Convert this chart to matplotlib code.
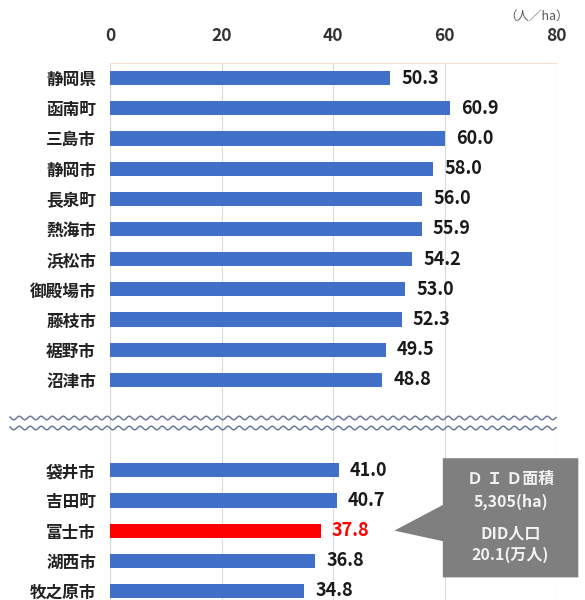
import numpy as np
import matplotlib.pyplot as plt
from matplotlib.patches import Polygon

plt.rcParams['font.family'] = ['Noto Sans CJK JP', 'DejaVu Sans']

# upper group (above the break) and lower group (below the break)
top_names = ['静岡県', '函南町', '三島市', '静岡市', '長泉町', '熱海市',
             '浜松市', '御殿場市', '藤枝市', '裾野市', '沼津市']
top_values = [50.3, 60.9, 60.0, 58.0, 56.0, 55.9, 54.2, 53.0, 52.3, 49.5, 48.8]
bottom_names = ['袋井市', '吉田町', '富士市', '湖西市', '牧之原市']
bottom_values = [41.0, 40.7, 37.8, 36.8, 34.8]
highlight = '富士市'
x_ticks = [0, 20, 40, 60, 80]


def main():
    names = top_names + bottom_names
    values = top_values + bottom_values
    pos = list(range(len(top_names))) + [len(top_names) + 2 + i for i in range(len(bottom_names))]

    blue = '#4170C8'
    red = '#FF0000'
    colors = [red if n == highlight else blue for n in names]

    fig = plt.figure(figsize=(5.85, 6.0), dpi=100)
    ax = fig.add_axes([110 / 585, 0.0, (556 - 110) / 585, 1 - 63 / 600])

    ax.barh(pos, values, height=0.47, color=colors, zorder=3)
    for p, v, n in zip(pos, values, names):
        ax.text(v + 2.0, p, f'{v:.1f}', va='center', ha='left', fontsize=13,
                fontweight='bold', color=red if n == highlight else '#1a1a1a')

    ax.set_xlim(0, 80)
    ax.set_ylim(17.3, -0.5)
    ax.set_xticks(x_ticks)
    ax.xaxis.tick_top()
    ax.tick_params(axis='x', length=0, pad=13, labelsize=12.5, labelcolor='#333333')
    for lbl in ax.get_xticklabels():
        lbl.set_fontweight('bold')
    ax.set_yticks(pos)
    ax.set_yticklabels(names, fontsize=12, fontweight='bold', color='#222222')
    ax.tick_params(axis='y', length=0, pad=10)
    ax.grid(True, axis='x', color='#d9d9d9', linewidth=0.8, zorder=0)
    for s in ['left', 'right', 'bottom']:
        ax.spines[s].set_visible(False)
    ax.spines['top'].set_color('#f6e0d0')
    ax.axvline(0, color='#e8e8e8', linewidth=0.8, zorder=1)

    # wavy break lines across the gap
    xs = np.linspace(10, 556, 600)
    for yb in [418, 428]:
        ys = yb + 1.8 * np.sin(2 * np.pi * xs / 11)
        fig.add_artist(plt.Line2D(xs / 585, 1 - ys / 600, color='#6b7a99',
                                  linewidth=1.1, transform=fig.transFigure))

    # unit
    fig.text(537 / 585, 1 - 16 / 600, '（人／ha）', ha='center', va='center',
             fontsize=9, color='#595959')

    # callout box
    y_hl = pos[names.index(highlight)]
    bx0, bx1 = 59.7, 84.0
    by0, by1 = 12.6, 16.55
    box = Polygon([(bx0, by0), (bx1, by0), (bx1, by1), (bx0, by1),
                   (bx0, y_hl + 0.35), (51.0, y_hl), (bx0, y_hl - 0.85)],
                  closed=True, facecolor='#7f7f7f', edgecolor='none',
                  clip_on=False, zorder=5)
    ax.add_patch(box)
    cx = (bx0 + bx1) / 2
    txt = dict(ha='center', va='center', fontsize=11.5, fontweight='bold',
               color='#f2f2f2', zorder=6, clip_on=False)
    ax.text(cx, 13.3, 'Ｄ Ｉ Ｄ面積', **txt)
    ax.text(cx, 14.05, '5,305(ha)', **txt)
    ax.text(cx, 15.1, 'DID人口', **txt)
    ax.text(cx, 15.8, '20.1(万人)', **txt)

    fig.savefig('out.png', dpi=100)


if __name__ == '__main__':
    main()
